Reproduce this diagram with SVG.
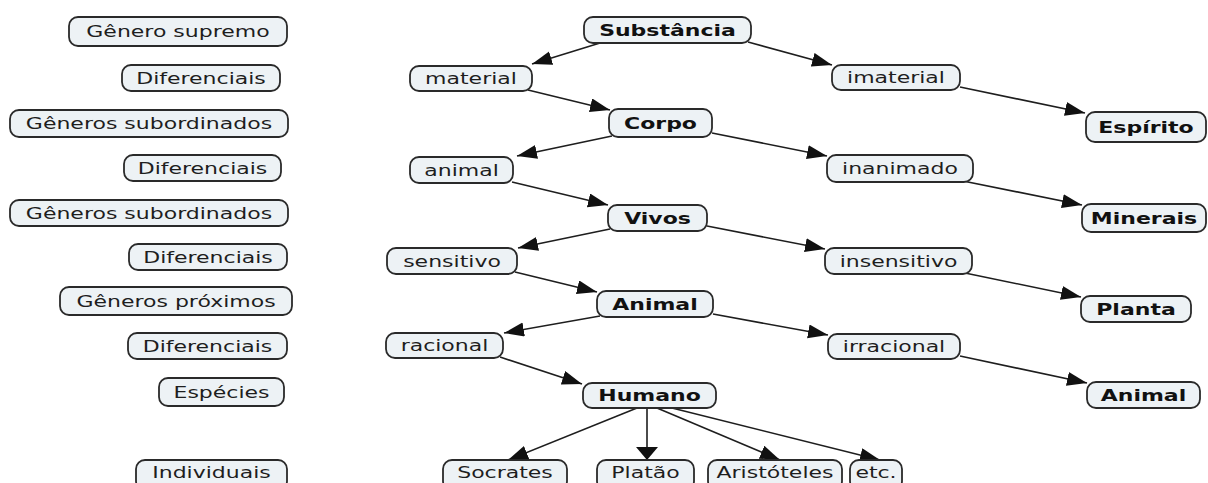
<svg xmlns="http://www.w3.org/2000/svg" width="1208" height="483" viewBox="0 0 1208 483">
<defs>
<style>
.box{fill:#edf2f5;stroke:#2a2a2a;stroke-width:1.8}
.t{font-family:"DejaVu Sans",Verdana,sans-serif;font-size:15.5px;fill:#1e1e1e;text-anchor:middle}
.b{font-weight:bold;fill:#111}
.c{fill:none;stroke:#1e1e1e;stroke-width:1.6}
</style>
<marker id="ah" markerUnits="userSpaceOnUse" markerWidth="22" markerHeight="16" refX="20" refY="7" orient="auto">
<path d="M0,0 L20,7 L0,14 z" fill="#111"/>
</marker>
<marker id="av" markerUnits="userSpaceOnUse" markerWidth="16" markerHeight="24" refX="13" refY="11" orient="auto">
<path d="M0,0 L13,11 L0,22 z" fill="#111"/>
</marker>
</defs>
<rect width="1208" height="483" fill="#ffffff"/>

<g id="connectors">
<path class="c" marker-end="url(#ah)" d="M600,43 L532,64"/>
<path class="c" marker-end="url(#ah)" d="M528,90 L610,110"/>
<path class="c" marker-end="url(#ah)" d="M748,42 L832,65"/>
<path class="c" marker-end="url(#ah)" d="M960,87 L1085,113"/>
<path class="c" marker-end="url(#ah)" d="M612,136 L517,156"/>
<path class="c" marker-end="url(#ah)" d="M712,133 L827,156"/>
<path class="c" marker-end="url(#ah)" d="M512,182 L608,205"/>
<path class="c" marker-end="url(#ah)" d="M963,181 L1082,205"/>
<path class="c" marker-end="url(#ah)" d="M610,229 L518,248"/>
<path class="c" marker-end="url(#ah)" d="M707,226 L825,249"/>
<path class="c" marker-end="url(#ah)" d="M515,272 L597,292"/>
<path class="c" marker-end="url(#ah)" d="M965,273 L1081,297"/>
<path class="c" marker-end="url(#ah)" d="M600,316 L504,333"/>
<path class="c" marker-end="url(#ah)" d="M713,314 L828,335"/>
<path class="c" marker-end="url(#ah)" d="M500,357 L582,384"/>
<path class="c" marker-end="url(#ah)" d="M960,356 L1087,383"/>
<path class="c" marker-end="url(#ah)" d="M637,408 L508,460"/>
<path class="c" marker-end="url(#av)" d="M647,408 L647,460"/>
<path class="c" marker-end="url(#ah)" d="M657,408 L780,460"/>
<path class="c" marker-end="url(#ah)" d="M668,407 L880,460"/>
</g>

<g id="n-genero-supremo"><rect class="box" x="69" y="17" width="218" height="29" rx="9"/><text class="t" transform="translate(178,37) scale(1.42,1)">Gênero supremo</text></g>
<g id="n-dif1"><rect class="box" x="122" y="65" width="158" height="26" rx="9"/><text class="t" transform="translate(201,83.5) scale(1.42,1)">Diferenciais</text></g>
<g id="n-gsub1"><rect class="box" x="10" y="110" width="278" height="27" rx="9"/><text class="t" transform="translate(149,129) scale(1.42,1)">Gêneros subordinados</text></g>
<g id="n-dif2"><rect class="box" x="124" y="155" width="157" height="26" rx="9"/><text class="t" transform="translate(202.5,173.5) scale(1.42,1)">Diferenciais</text></g>
<g id="n-gsub2"><rect class="box" x="10" y="200" width="278" height="26" rx="9"/><text class="t" transform="translate(149,218.5) scale(1.42,1)">Gêneros subordinados</text></g>
<g id="n-dif3"><rect class="box" x="129" y="244" width="158" height="26" rx="9"/><text class="t" transform="translate(208,262.5) scale(1.42,1)">Diferenciais</text></g>
<g id="n-gprox"><rect class="box" x="60" y="287" width="232" height="28" rx="9"/><text class="t" transform="translate(176,306.5) scale(1.42,1)">Gêneros próximos</text></g>
<g id="n-dif4"><rect class="box" x="128" y="333" width="159" height="26" rx="9"/><text class="t" transform="translate(207.5,351.5) scale(1.42,1)">Diferenciais</text></g>
<g id="n-especies"><rect class="box" x="159" y="378" width="125" height="28" rx="9"/><text class="t" transform="translate(221.5,397.5) scale(1.42,1)">Espécies</text></g>
<g id="n-individuais"><rect class="box" x="136" y="460" width="151" height="30" rx="9"/><text class="t" transform="translate(211.5,478) scale(1.42,1)">Individuais</text></g>

<g id="n-substancia"><rect class="box" x="584" y="17" width="167" height="26" rx="9"/><text class="t b" transform="translate(667.5,35.5) scale(1.42,1)">Substância</text></g>
<g id="n-material"><rect class="box" x="410" y="66" width="122" height="25" rx="9"/><text class="t" transform="translate(471,84) scale(1.42,1)">material</text></g>
<g id="n-imaterial"><rect class="box" x="832" y="65" width="128" height="25" rx="9"/><text class="t" transform="translate(896,83) scale(1.42,1)">imaterial</text></g>
<g id="n-corpo"><rect class="box" x="609" y="109" width="103" height="28" rx="9"/><text class="t b" transform="translate(660.5,128.5) scale(1.42,1)">Corpo</text></g>
<g id="n-espirito"><rect class="box" x="1086" y="112" width="120" height="30" rx="9"/><text class="t b" transform="translate(1146,132.5) scale(1.42,1)">Espírito</text></g>
<g id="n-animal-dif"><rect class="box" x="410" y="157" width="103" height="26" rx="9"/><text class="t" transform="translate(461.5,175.5) scale(1.42,1)">animal</text></g>
<g id="n-inanimado"><rect class="box" x="827" y="155" width="146" height="27" rx="9"/><text class="t" transform="translate(900,174) scale(1.42,1)">inanimado</text></g>
<g id="n-vivos"><rect class="box" x="608" y="205" width="99" height="26" rx="9"/><text class="t b" transform="translate(657.5,223.5) scale(1.42,1)">Vivos</text></g>
<g id="n-minerais"><rect class="box" x="1082" y="204" width="124" height="28" rx="9"/><text class="t b" transform="translate(1144,223.5) scale(1.42,1)">Minerais</text></g>
<g id="n-sensitivo"><rect class="box" x="387" y="248" width="130" height="26" rx="9"/><text class="t" transform="translate(452,266.5) scale(1.42,1)">sensitivo</text></g>
<g id="n-insensitivo"><rect class="box" x="825" y="248" width="147" height="26" rx="9"/><text class="t" transform="translate(898.5,266.5) scale(1.42,1)">insensitivo</text></g>
<g id="n-animal"><rect class="box" x="597" y="291" width="116" height="26" rx="9"/><text class="t b" transform="translate(655,309.5) scale(1.42,1)">Animal</text></g>
<g id="n-planta"><rect class="box" x="1081" y="296" width="110" height="26" rx="9"/><text class="t b" transform="translate(1136,314.5) scale(1.42,1)">Planta</text></g>
<g id="n-racional"><rect class="box" x="386" y="333" width="117" height="25" rx="9"/><text class="t" transform="translate(444.5,351) scale(1.42,1)">racional</text></g>
<g id="n-irracional"><rect class="box" x="828" y="334" width="132" height="25" rx="9"/><text class="t" transform="translate(894,352) scale(1.42,1)">irracional</text></g>
<g id="n-animal2"><rect class="box" x="1087" y="382" width="113" height="26" rx="9"/><text class="t b" transform="translate(1143.5,400.5) scale(1.42,1)">Animal</text></g>
<g id="n-humano"><rect class="box" x="583" y="383" width="133" height="25" rx="9"/><text class="t b" transform="translate(649.5,401) scale(1.42,1)">Humano</text></g>
<g id="n-socrates"><rect class="box" x="443" y="460" width="124" height="30" rx="9"/><text class="t" transform="translate(505,478) scale(1.42,1)">Socrates</text></g>
<g id="n-platao"><rect class="box" x="597" y="460" width="97" height="30" rx="9"/><text class="t" transform="translate(645.5,478) scale(1.42,1)">Platão</text></g>
<g id="n-aristoteles"><rect class="box" x="708" y="460" width="134" height="30" rx="9"/><text class="t" transform="translate(775,478) scale(1.42,1)">Aristóteles</text></g>
<g id="n-etc"><rect class="box" x="850" y="460" width="52" height="30" rx="9"/><text class="t" transform="translate(876,478) scale(1.42,1)">etc.</text></g>
</svg>
